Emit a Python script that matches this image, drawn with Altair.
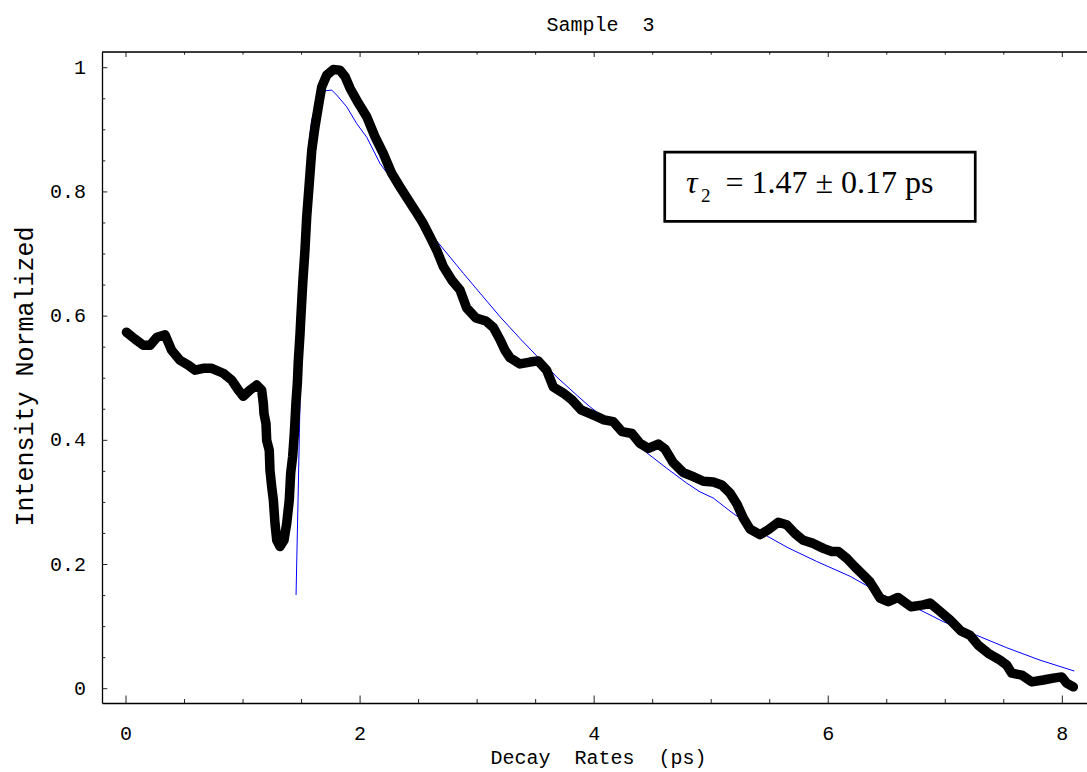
import altair as alt
import pandas as pd

NB = "\u00a0"
title_text = "Sample" + NB + NB + "3"
x_title = "Decay" + NB + NB + "Rates" + NB + NB + "(ps)"
y_title = "Intensity Normalized"

x_major = [0, 2, 4, 6, 8]
x_minor = [0.5, 1, 1.5, 2.5, 3, 3.5, 4.5, 5, 5.5, 6.5, 7, 7.5]
y_major = [0, 0.2, 0.4, 0.6, 0.8, 1]
y_minor = [0.05, 0.1, 0.15, 0.25, 0.3, 0.35, 0.45, 0.5, 0.55, 0.65, 0.7, 0.75, 0.85, 0.9, 0.95]
x_tick_labels = ["0", "2", "4", "6", "8"]
y_tick_labels = ["0", "0.2", "0.4", "0.6", "0.8", "1"]

x_domain = [-0.2051, 8.2109]
y_domain = [-0.0230, 1.0253]

data_x = [0.004, 0.077, 0.148, 0.205, 0.265, 0.333, 0.390, 0.461, 0.532, 0.590,
          0.660, 0.732, 0.831, 0.903, 0.960, 1.002, 1.059, 1.117, 1.159, 1.173,
          1.179, 1.196, 1.202, 1.224, 1.230, 1.245, 1.259, 1.273, 1.288, 1.316,
          1.350, 1.373, 1.395, 1.407, 1.424, 1.438, 1.452, 1.464, 1.472, 1.487,
          1.493, 1.510, 1.529, 1.544, 1.566, 1.587, 1.615, 1.643, 1.672, 1.715,
          1.771, 1.828, 1.871, 1.914, 1.985, 2.057, 2.127, 2.198, 2.270, 2.341,
          2.412, 2.484, 2.540, 2.597, 2.655, 2.711, 2.783, 2.854, 2.911, 2.990,
          3.076, 3.138, 3.196, 3.238, 3.281, 3.366, 3.452, 3.520, 3.594, 3.651,
          3.736, 3.811, 3.888, 3.964, 4.024, 4.084, 4.163, 4.238, 4.323, 4.392,
          4.463, 4.548, 4.605, 4.676, 4.762, 4.853, 4.933, 5.018, 5.090, 5.161,
          5.221, 5.274, 5.332, 5.417, 5.488, 5.573, 5.645, 5.716, 5.787, 5.872,
          5.958, 6.030, 6.086, 6.158, 6.229, 6.300, 6.357, 6.400, 6.442, 6.513,
          6.596, 6.707, 6.812, 6.869, 6.940, 7.040, 7.134, 7.211, 7.282, 7.368,
          7.468, 7.525, 7.568, 7.653, 7.739, 7.838, 7.923, 7.995, 8.037, 8.094]
data_y = [0.574, 0.563, 0.553, 0.553, 0.566, 0.570, 0.545, 0.529, 0.521, 0.513,
          0.516, 0.516, 0.508, 0.497, 0.481, 0.471, 0.481, 0.489, 0.481, 0.460,
          0.443, 0.427, 0.400, 0.384, 0.352, 0.325, 0.304, 0.266, 0.239, 0.229,
          0.239, 0.266, 0.304, 0.347, 0.374, 0.411, 0.460, 0.492, 0.527, 0.572,
          0.594, 0.653, 0.706, 0.760, 0.814, 0.867, 0.905, 0.937, 0.969, 0.988,
          0.997, 0.996, 0.986, 0.967, 0.943, 0.921, 0.889, 0.862, 0.830, 0.808,
          0.787, 0.766, 0.749, 0.728, 0.706, 0.680, 0.658, 0.642, 0.613, 0.597,
          0.592, 0.582, 0.562, 0.545, 0.533, 0.523, 0.526, 0.528, 0.513, 0.486,
          0.476, 0.465, 0.449, 0.443, 0.438, 0.433, 0.430, 0.414, 0.411, 0.395,
          0.387, 0.394, 0.386, 0.364, 0.348, 0.341, 0.334, 0.333, 0.328, 0.315,
          0.297, 0.275, 0.257, 0.248, 0.256, 0.268, 0.264, 0.250, 0.239, 0.234,
          0.226, 0.221, 0.221, 0.210, 0.196, 0.183, 0.172, 0.159, 0.146, 0.140,
          0.147, 0.132, 0.135, 0.138, 0.127, 0.111, 0.093, 0.086, 0.070, 0.057,
          0.046, 0.038, 0.025, 0.022, 0.011, 0.014, 0.017, 0.019, 0.009, 0.003]

fit_x = [1.453, 1.470, 1.487, 1.512, 1.538, 1.566, 1.587, 1.615, 1.658, 1.709,
         1.758, 1.800, 1.886, 1.971, 2.057, 2.170, 2.655, 2.882, 3.025, 3.196,
         3.366, 3.509, 3.680, 3.879, 3.964, 4.306, 4.449, 4.620, 4.791, 4.904,
         5.018, 5.189, 5.485, 5.656, 5.901, 6.187, 6.499, 6.741, 6.983, 7.268,
         7.525, 7.809, 8.102]
fit_y = [0.151, 0.304, 0.465, 0.626, 0.755, 0.884, 0.916, 0.937, 0.953, 0.963,
         0.964, 0.956, 0.937, 0.910, 0.888, 0.846, 0.721, 0.669, 0.637, 0.599,
         0.564, 0.536, 0.502, 0.468, 0.454, 0.405, 0.380, 0.355, 0.331, 0.317,
         0.307, 0.282, 0.245, 0.227, 0.205, 0.181, 0.148, 0.131, 0.108, 0.086,
         0.066, 0.046, 0.0285]

box_x = [4.603, 7.256]
box_y = [0.7527, 0.8642]
tau_pos = [4.785, 0.7982]
sub_pos = [4.913, 0.7837]
rest_pos = [5.122, 0.7982]
tau_text = "τ"
sub_text = "2"
rest_text = "= 1.47 ± 0.17 ps"

W, H = 985, 651
MONO = "Liberation Mono"

xs = alt.Scale(domain=x_domain, nice=False, zero=False)
ys = alt.Scale(domain=y_domain, nice=False, zero=False)

x_axis = alt.Axis(values=x_major, ticks=False, labels=False, grid=False, domain=True,
                  domainColor="black", domainWidth=1.3,
                  title=x_title, titleFont=MONO, titleFontSize=20,
                  titleFontWeight="normal", titleColor="black", titleX=496, titleY=60,
                  titleBaseline="alphabetic", titleAlign="center")
y_axis = alt.Axis(values=y_major, ticks=False, labels=False, grid=False, domain=True,
                  domainColor="black", domainWidth=1.3,
                  title=y_title, titleFont=MONO, titleFontSize=25,
                  titleFontWeight="normal", titleColor="black", titleX=-70, titleY=324,
                  titleBaseline="alphabetic", titleAlign="center", titleAngle=270)

fit_df = pd.DataFrame({"x": fit_x, "y": fit_y, "i": range(len(fit_x))})
data_df = pd.DataFrame({"x": data_x, "y": data_y, "i": range(len(data_x))})

X = lambda: alt.X("x:Q", scale=xs, axis=x_axis)
Y = lambda: alt.Y("y:Q", scale=ys, axis=y_axis)

fit_line = alt.Chart(fit_df).mark_line(color="#0000ff", strokeWidth=1).encode(
    x=X(), y=Y(), order="i:Q")
data_line = alt.Chart(data_df).mark_line(
    color="black", strokeWidth=9.5, strokeCap="round", strokeJoin="round").encode(
    x=X(), y=Y(), order="i:Q")

xmaj_df = pd.DataFrame({"x": x_major, "t": x_tick_labels})
xmin_df = pd.DataFrame({"x": x_minor})
ymaj_df = pd.DataFrame({"y": y_major, "t": y_tick_labels})
ymin_df = pd.DataFrame({"y": y_minor})

tick_color = "#222222"
bot_major = alt.Chart(xmaj_df).mark_rule(color=tick_color, strokeWidth=1).encode(
    x=X(), y=alt.value(H), y2=alt.value(H - 7.5))
bot_minor = alt.Chart(xmin_df).mark_rule(color=tick_color, strokeWidth=1).encode(
    x=X(), y=alt.value(H), y2=alt.value(H - 4))
top_major = alt.Chart(xmaj_df).mark_rule(color=tick_color, strokeWidth=1).encode(
    x=X(), y=alt.value(0), y2=alt.value(5))
top_minor = alt.Chart(xmin_df).mark_rule(color=tick_color, strokeWidth=1).encode(
    x=X(), y=alt.value(0), y2=alt.value(2.7))
left_major = alt.Chart(ymaj_df).mark_rule(color=tick_color, strokeWidth=1).encode(
    y=Y(), x=alt.value(0), x2=alt.value(5.3))
left_minor = alt.Chart(ymin_df).mark_rule(color=tick_color, strokeWidth=1).encode(
    y=Y(), x=alt.value(0), x2=alt.value(3.3))
top_line = alt.Chart(pd.DataFrame({"a": [0]})).mark_rule(color="black", strokeWidth=1.3).encode(
    x=alt.value(0), x2=alt.value(W), y=alt.value(0))

x_labels = alt.Chart(xmaj_df).mark_text(
    font=MONO, fontSize=20, color="black", align="center", baseline="alphabetic").encode(
    x=X(), y=alt.value(H + 37), text="t:N")
y_labels = alt.Chart(ymaj_df).mark_text(
    font=MONO, fontSize=20, color="black", align="right", baseline="middle").encode(
    y=Y(), x=alt.value(-16), text="t:N")

title_mark = alt.Chart(pd.DataFrame({"t": [title_text]})).mark_text(
    font=MONO, fontSize=20, color="black", align="center",
    baseline="alphabetic").encode(x=alt.value(498.5), y=alt.value(-21), text="t:N")

box_df = pd.DataFrame({"x": [box_x[0]], "x2": [box_x[1]], "y": [box_y[0]], "y2": [box_y[1]]})
box = alt.Chart(box_df).mark_rect(filled=False, stroke="black", strokeWidth=2.7).encode(
    x=alt.X("x:Q", scale=xs, axis=x_axis), x2="x2:Q",
    y=alt.Y("y:Q", scale=ys, axis=y_axis), y2="y2:Q")

def label(pos, text, size, style):
    df = pd.DataFrame({"x": [pos[0]], "y": [pos[1]], "t": [text]})
    return alt.Chart(df).mark_text(
        font="Liberation Serif", fontSize=size, fontStyle=style, color="black",
        align="left", baseline="alphabetic").encode(x=X(), y=Y(), text="t:N")

tau = label(tau_pos, tau_text, 32, "italic")
sub = label(sub_pos, sub_text, 19, "normal")
rest = label(rest_pos, rest_text, 32, "normal")

chart = alt.layer(
    fit_line, data_line,
    bot_major, bot_minor, top_major, top_minor, left_major, left_minor, top_line,
    x_labels, y_labels, title_mark, box, tau, sub, rest
).properties(
    width=W, height=H,
    autosize=alt.AutoSizeParams(type="none"),
    padding={"left": 102, "top": 52, "right": 0, "bottom": 69},
).configure_view(strokeWidth=0).configure(background="white")

chart.save("out.html", embed_options={"renderer": "svg", "actions": False})
